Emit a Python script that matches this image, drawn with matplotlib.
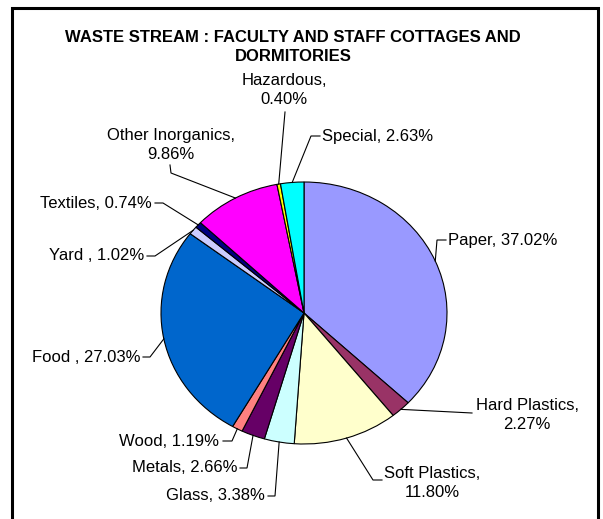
import numpy as np
import matplotlib
matplotlib.use("Agg")
import matplotlib.pyplot as plt
from matplotlib.patches import Rectangle

plt.rcParams['font.family'] = ['Liberation Sans', 'DejaVu Sans']

#waste composition, clockwise from 12 o'clock
categories=['Paper', 'Hard Plastics', 'Soft Plastics', 'Glass', 'Metals', 'Wood',
	'Food ', 'Yard ', 'Textiles', 'Other Inorganics', 'Hazardous', 'Special']
shares=[37.02, 2.27, 11.80, 3.38, 2.66, 1.19, 27.03, 1.02, 0.74, 9.86, 0.40, 2.63]
colors=['#9999FF', '#993366', '#FFFFCC', '#CCFFFF', '#660066', '#FF8080',
	'#0066CC', '#CCCCFF', '#000080', '#FF00FF', '#FFFF00', '#00FFFF']
title="WASTE STREAM : FACULTY AND STAFF COTTAGES AND\nDORMITORIES"

W, H=603, 519
cx, cy=304, 313 #pie centre in pixels
rx, ry=143, 131 #pie is a little squashed vertically

def px(x, y):
	#pixel position (top-left origin) -> data coords
	return (x-cx)/rx, (cy-y)/ry

#label placement: text anchor, alignment, two-line?, leader start, leader elbow
placement={
	'Paper': ((448, 240), 'left', False, (446, 240), (437, 240)),
	'Hard Plastics': ((527, 415), 'center', True, (472, 413), (472, 413)),
	'Soft Plastics': ((432, 483), 'center', True, (382, 480), (373, 480)),
	'Glass': ((265, 496), 'right', False, (268, 496), (275, 496)),
	'Metals': ((237, 468), 'right', False, (240, 468), (247, 468)),
	'Wood': ((219, 441), 'right', False, (223, 441), (232, 441)),
	'Food ': ((141, 357), 'right', False, (143, 357), (150, 357)),
	'Yard ': ((144, 256), 'right', False, (147, 256), (155, 256)),
	'Textiles': ((152, 203), 'right', False, (155, 203), (163, 203)),
	'Other Inorganics': ((171, 145), 'center', True, (170, 165), (171, 173)),
	'Hazardous': ((284, 90), 'center', True, (285, 112), (285, 112)),
	'Special': ((322, 136), 'left', False, (320, 136), (311, 136)),
}

fig=plt.figure(figsize=(W/100, H/100), dpi=100)
ax=fig.add_axes([0, 0, 1, 1])
wedges, _=ax.pie(shares, colors=colors, startangle=90, counterclock=False,
	wedgeprops=dict(edgecolor='black', linewidth=0.8))
ax.set_aspect('auto')
ax.set_xlim(px(0, 0)[0], px(W, 0)[0])
ax.set_ylim(px(0, H)[1], px(0, 0)[1])
ax.axis('off')

cum=np.cumsum([0]+shares)
for i, name in enumerate(categories):
	mid=(cum[i]+cum[i+1])/2/100*2*np.pi
	ex, ey=np.sin(mid), np.cos(mid) #edge point on the wedge mid-angle
	(tx, ty), ha, wrap, start, elbow=placement[name]
	sep='\n' if wrap else ' '
	label=name+','+sep+'%.2f%%' % shares[i]
	x, y=px(tx, ty)
	ax.text(x, y, label, ha=ha, va='center', fontsize=12, linespacing=1.35,
		multialignment='center', color='black')
	sx, sy=px(*start)
	bx, by=px(*elbow)
	ax.plot([sx, bx, ex], [sy, by, ey], color='black', lw=0.8, solid_joinstyle='miter')

fig.text(293/W, 1-47/H, title, ha='center', va='center', fontsize=12,
	fontweight='bold', linespacing=1.4)

#chart frame
fig.patches.append(Rectangle((12/W, -4/H), 586/W, (H-8+4)/H, transform=fig.transFigure,
	fill=False, edgecolor='black', linewidth=2.2))

fig.savefig('out.png', dpi=100, facecolor='white')
